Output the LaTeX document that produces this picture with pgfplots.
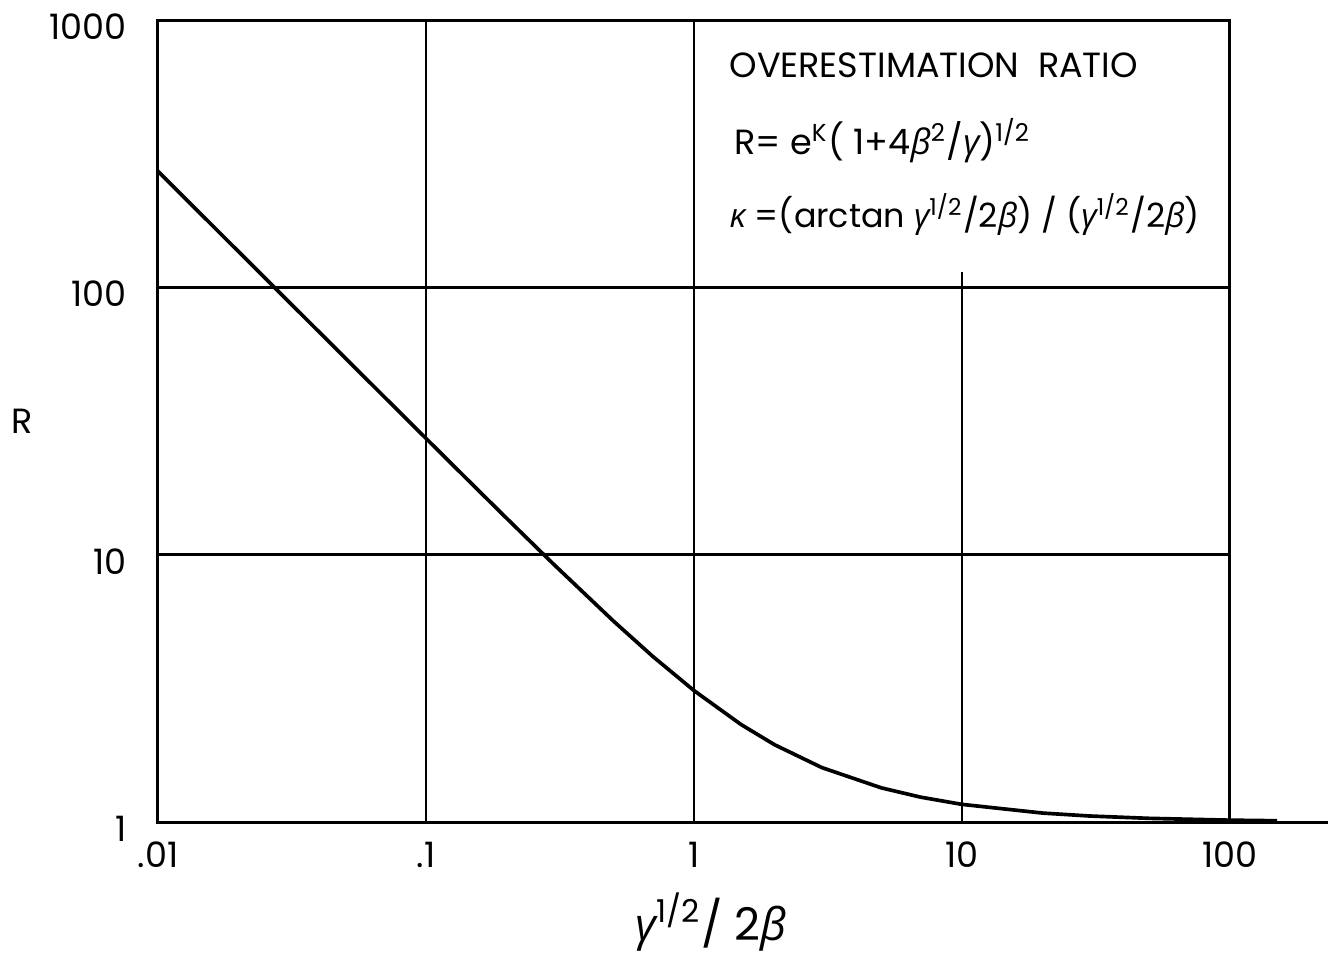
\documentclass[border=0pt]{standalone}
\usepackage{fontspec}
\setmainfont{Poppins}
\newfontfamily\gk{Open Sans}
\newcommand{\G}[1]{{\gk\itshape #1}}
\usepackage{pgfplots}
\pgfplotsset{compat=1.18}
\pgfplotstableread{
x y
0.01 271.8
0.02 135.9
0.03 90.6
0.05 54.39
0.07 38.87
0.1 27.23
0.15 18.19
0.2 13.68
0.3 9.194
0.5 5.652
0.7 4.173
1 3.102
1.5 2.314
2 1.945
3 1.598
5 1.342
7 1.239
10 1.164
20 1.080
30 1.053
50 1.032
100 1.016
150 1.011
}\curve
\begin{document}
\begin{tikzpicture}
\useasboundingbox (-47.4pt,-40.8pt) rectangle (352.2pt,246.6pt);
\begin{axis}[
  scale only axis, width=321.6pt, height=240.6pt,
  xmode=log, ymode=log, xmin=0.01, xmax=100, ymin=1, ymax=1000,
  axis line style={line width=0.9pt},
  xtick={0.01,0.1,1,10,100}, xticklabels={.01,.1,1,10,100},
  ytick={1,10,100,1000}, yticklabels={1,10,100,1000},
  major tick length=0pt, minor tick length=0pt,
  xminorticks=false, yminorticks=false,
  tick label style={font=\fontsize{10.5}{12}\selectfont},
  xticklabel style={yshift=-2.5pt},
  yticklabel style={xshift=-6pt, yshift=-2pt},
  clip=false,
  xlabel={\G{γ}\textsuperscript{1/2}/ 2\G{β}},
  xlabel style={font=\fontsize{13.5}{16}\selectfont, at={(rel axis cs:0.516,0)}, anchor=center, yshift=-30pt},
]
\draw[line width=0.8pt] (axis cs:0.1,1) -- (axis cs:0.1,1000);
\draw[line width=0.8pt] (axis cs:1,1) -- (axis cs:1,1000);
\draw[line width=0.8pt] (axis cs:10,1) -- (axis cs:10,114);
\draw[line width=0.8pt] (axis cs:0.01,10) -- (axis cs:100,10);
\draw[line width=0.8pt] (axis cs:0.01,100) -- (axis cs:100,100);
\draw[line width=0.9pt] (axis cs:100,1) -- (axis cs:232,1);
\addplot[black, line width=1.1pt] table {\curve};
\node[font=\fontsize{10.5}{12}\selectfont] at (rel axis cs:0,0.5) [xshift=-40.8pt] {R};
\node[anchor=west, inner sep=0pt, font=\fontsize{10.5}{12}\selectfont] at (rel axis cs:0.5326,0.944) {OVERESTIMATION\ \ RATIO};
\node[anchor=west, inner sep=0pt, font=\fontsize{10.5}{12}\selectfont] at (rel axis cs:0.537,0.850) {R= e\textsuperscript{K}( 1+4\G{β}\textsuperscript{2}/\G{γ})\textsuperscript{1/2}};
\node[anchor=west, inner sep=0pt, font=\fontsize{10}{12}\selectfont] at (rel axis cs:0.5326,0.757) {\G{κ} =(arctan \G{γ}\textsuperscript{1/2}/2\G{β}) / (\G{γ}\textsuperscript{1/2}/2\G{β})};
\end{axis}
\end{tikzpicture}
\end{document}
